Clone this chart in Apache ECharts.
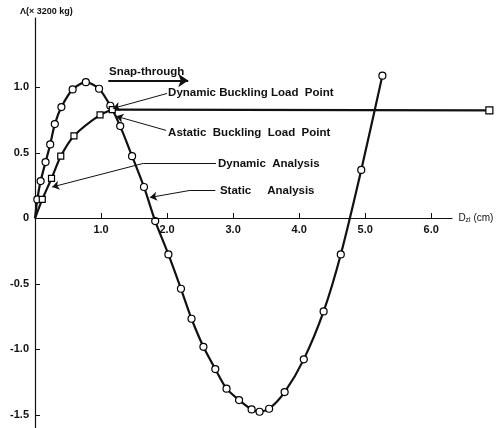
<!DOCTYPE html>
<html><head><meta charset="utf-8">
<script src="https://cdn.jsdelivr.net/npm/echarts@6/dist/echarts.min.js"></script>
<style>html,body{margin:0;padding:0;background:#fff}#c{width:500px;height:428px}</style>
</head><body><div id="c"></div>
<script>
// Static analysis (circles): displacement Dzl (cm), load factor
const staticX = [0, 0.035, 0.085, 0.16, 0.23, 0.30, 0.40, 0.57, 0.77, 0.97, 1.14, 1.29, 1.47, 1.65, 1.82, 2.02, 2.21, 2.37, 2.55, 2.73, 2.90, 3.09, 3.28, 3.40, 3.545, 3.78, 4.07, 4.37, 4.63, 4.94, 5.26];
const staticY = [0, 0.145, 0.285, 0.43, 0.565, 0.72, 0.85, 0.985, 1.04, 0.99, 0.86, 0.705, 0.475, 0.24, -0.02, -0.275, -0.537, -0.766, -0.98, -1.15, -1.30, -1.387, -1.458, -1.476, -1.453, -1.326, -1.076, -0.71, -0.275, 0.37, 1.09];
// Dynamic analysis (squares)
const dynX = [0, 0.11, 0.25, 0.39, 0.59, 0.985, 1.17];
const dynY = [0, 0.145, 0.305, 0.475, 0.63, 0.79, 0.83];
// Snap-through plateau
const snapX = [1.17, 6.88];
const snapY = [0.83, 0.825];
// Tick labels
const xTicks = [1, 2, 3, 4, 5, 6];
const yTicks = [-1.5, -1.0, -0.5, 0, 0.5, 1.0];
const xAxisEnd = 6.32;

const FONT = 'Liberation Sans';
const chart = echarts.init(document.getElementById('c'), null, {renderer: 'canvas'});

function pts(xs, ys, firstNone, lastOnly) {
  return xs.map((x, i) => {
    const it = {value: [x, ys[i]]};
    if ((firstNone && i === 0) || (lastOnly && i !== xs.length - 1)) it.symbol = 'none';
    return it;
  });
}

// Annotation anchors in data coordinates
const arrows = [
  {from: [0, 0], to: [xAxisEnd, 0], w: 1, head: false},
  {from: [1.11, 1.053], to: [2.32, 1.053], w: 2, head: true},
  {from: [2.0, 0.954], to: [1.18, 0.84], w: 1, head: true},
  {from: [1.985, 0.672], to: [1.23, 0.78], w: 1, head: true},
  {from: [2.74, 0.42], to: [1.64, 0.42], w: 1, head: false},
  {from: [1.64, 0.42], to: [0.26, 0.24], w: 1, head: true},
  {from: [2.73, 0.214], to: [2.35, 0.214], w: 1, head: false},
  {from: [2.35, 0.214], to: [1.74, 0.16], w: 1, head: true}
];
const notes = [
  {at: [1.12, 1.122], text: 'Snap-through'},
  {at: [2.015, 0.962], text: 'Dynamic Buckling Load  Point'},
  {at: [2.015, 0.656], text: 'Astatic  Buckling  Load  Point'},
  {at: [2.77, 0.42], text: 'Dynamic  Analysis'},
  {at: [2.80, 0.214], text: 'Static     Analysis'}
];

const lineStyle = {color: '#111', width: 2.2};
const itemStyle = {color: '#fff', borderColor: '#000', borderWidth: 1.2};

chart.setOption({
  animation: false,
  grid: {left: 35, right: 6, top: 18, bottom: 0, containLabel: false, outerBoundsMode: 'none'},
  xAxis: {
    type: 'value', min: 0, max: 6.95, position: 'bottom', offset: -210,
    axisLine: {show: false, onZero: false},
    axisTick: {show: true, inside: true, length: 5, customValues: xTicks, lineStyle: {color: '#111'}},
    axisLabel: {customValues: xTicks, formatter: v => v.toFixed(1), fontFamily: FONT, fontWeight: 'bold', fontSize: 11, color: '#111', margin: 6},
    splitLine: {show: false}
  },
  yAxis: {
    type: 'value', min: -1.6, max: 1.53,
    axisLine: {show: true, onZero: false, lineStyle: {color: '#111', width: 1.2}},
    axisTick: {show: true, inside: true, length: 5, customValues: yTicks, lineStyle: {color: '#111'}},
    axisLabel: {customValues: yTicks, formatter: v => v === 0 ? '0' : v.toFixed(1), fontFamily: FONT, fontWeight: 'bold', fontSize: 11, color: '#111', margin: 6},
    splitLine: {show: false}
  },
  series: [
    {
      name: 'Static Analysis', type: 'line', smooth: 0.25, clip: false,
      data: pts(staticX, staticY, true, false),
      symbol: 'circle', symbolSize: 7, lineStyle, itemStyle, z: 3,
      markLine: {
        silent: true, animation: false, label: {show: false},
        data: arrows.map(a => [
          {coord: a.from, symbol: 'none', lineStyle: {color: '#111', width: a.w, type: 'solid'}},
          {coord: a.to, symbol: a.head ? 'arrow' : 'none', symbolSize: a.w > 1 ? 10 : 7}
        ])
      }
    },
    {
      name: 'Dynamic Analysis', type: 'line', smooth: 0.25, clip: false,
      data: pts(dynX, dynY, true, false),
      symbol: 'rect', symbolSize: 6, lineStyle, itemStyle, z: 3
    },
    {
      name: 'Snap-through', type: 'line', clip: false,
      data: pts(snapX, snapY, false, true),
      symbol: 'rect', symbolSize: 7, lineStyle, itemStyle, z: 2
    }
  ]
});

const g = notes.map(n => {
  const p = chart.convertToPixel({gridIndex: 0}, n.at);
  return {type: 'text', x: p[0], y: p[1], silent: true,
    style: {text: n.text, fontFamily: FONT, fontWeight: 'bold', fontSize: 11.5, fill: '#111', textAlign: 'left', textVerticalAlign: 'middle'}};
});
g.push({type: 'text', x: 20, y: 12, silent: true,
  style: {text: 'Λ(× 3200 kg)', fontFamily: FONT, fontWeight: 'bold', fontSize: 9, fill: '#111', textAlign: 'left', textVerticalAlign: 'middle'}});
const pe = chart.convertToPixel({gridIndex: 0}, [xAxisEnd, 0]);
g.push({type: 'text', x: pe[0] + 6, y: pe[1], silent: true,
  style: {text: 'D{s|zl} (cm)', fontFamily: FONT, fontSize: 10, fill: '#111', textAlign: 'left', textVerticalAlign: 'middle',
    rich: {s: {fontFamily: FONT, fontSize: 7, fill: '#111', padding: [4, 0, 0, 0]}}}});
chart.setOption({graphic: g});
</script></body></html>
